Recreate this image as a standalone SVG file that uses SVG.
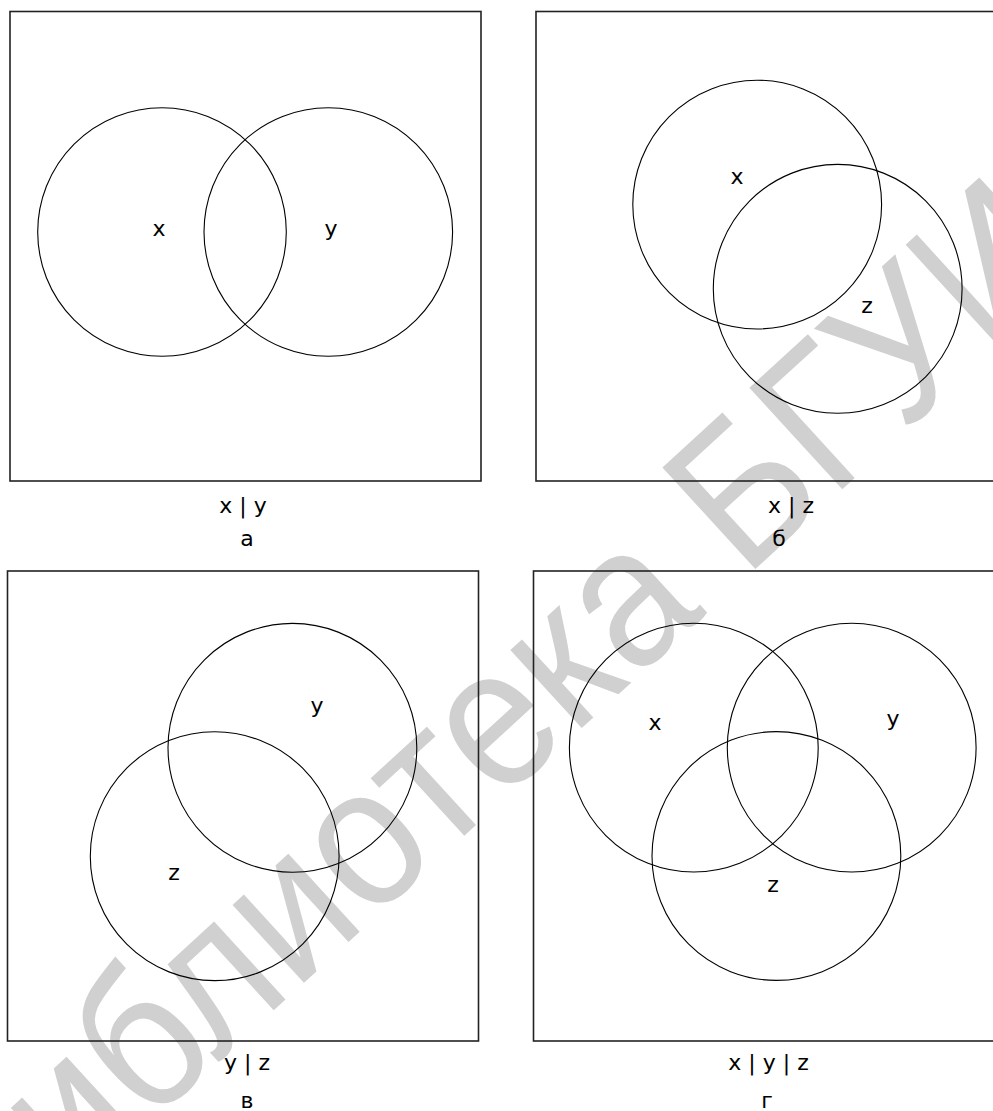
<svg xmlns="http://www.w3.org/2000/svg" width="993" height="1111" viewBox="0 0 993 1111">
<style>
.box{fill:none;stroke:#222;stroke-width:1.6}
.c{fill:none;stroke:#000;stroke-width:1.1}
.t{font-family:"DejaVu Sans",sans-serif;font-size:22px;fill:#000;text-anchor:middle}
.wm{font-family:"Liberation Sans",Arial,sans-serif;font-size:200px;fill:#d0d0d0}
</style>
<rect x="0" y="0" width="993" height="1111" fill="#fff"/>
<g id="watermark">
<text class="wm" transform="translate(-14,1274) rotate(-42.5) scale(0.9,1)">Библиотека БГУИР</text>
</g>
<g id="panel-a">
<rect class="box" x="10" y="11.5" width="471" height="469.5"/>
<circle class="c" cx="162" cy="232" r="124.3"/>
<circle class="c" cx="328.3" cy="232" r="124.3"/>
<text class="t" x="159" y="236">x</text>
<text class="t" x="331" y="236">y</text>
<text class="t" x="243" y="513">x | y</text>
<text class="t" x="247" y="546">а</text>
</g>
<g id="panel-b">
<rect class="box" x="536" y="11.5" width="471" height="469.5"/>
<circle class="c" cx="757.2" cy="204.6" r="124.4"/>
<circle class="c" cx="837.7" cy="288.8" r="124.4"/>
<text class="t" x="737" y="184">x</text>
<text class="t" x="867" y="313">z</text>
<text class="t" x="791" y="513">x | z</text>
<text class="t" x="779" y="546">б</text>
</g>
<g id="panel-c">
<rect class="box" x="7.5" y="571" width="471" height="470"/>
<circle class="c" cx="292.4" cy="747.8" r="124.4"/>
<circle class="c" cx="214.7" cy="856.2" r="124.4"/>
<text class="t" x="317" y="713">y</text>
<text class="t" x="174" y="879.5">z</text>
<text class="t" x="247" y="1070">y | z</text>
<text class="t" x="247" y="1108">в</text>
</g>
<g id="panel-d">
<rect class="box" x="533.5" y="571" width="471" height="470"/>
<circle class="c" cx="693.8" cy="747.6" r="124.4"/>
<circle class="c" cx="851.7" cy="747.6" r="124.4"/>
<circle class="c" cx="776.4" cy="856" r="124.4"/>
<text class="t" x="655" y="730">x</text>
<text class="t" x="893" y="726">y</text>
<text class="t" x="773" y="892">z</text>
<text class="t" x="768.5" y="1070">x | y | z</text>
<text class="t" x="767" y="1108">г</text>
</g>
<g id="connectors"></g>
</svg>
